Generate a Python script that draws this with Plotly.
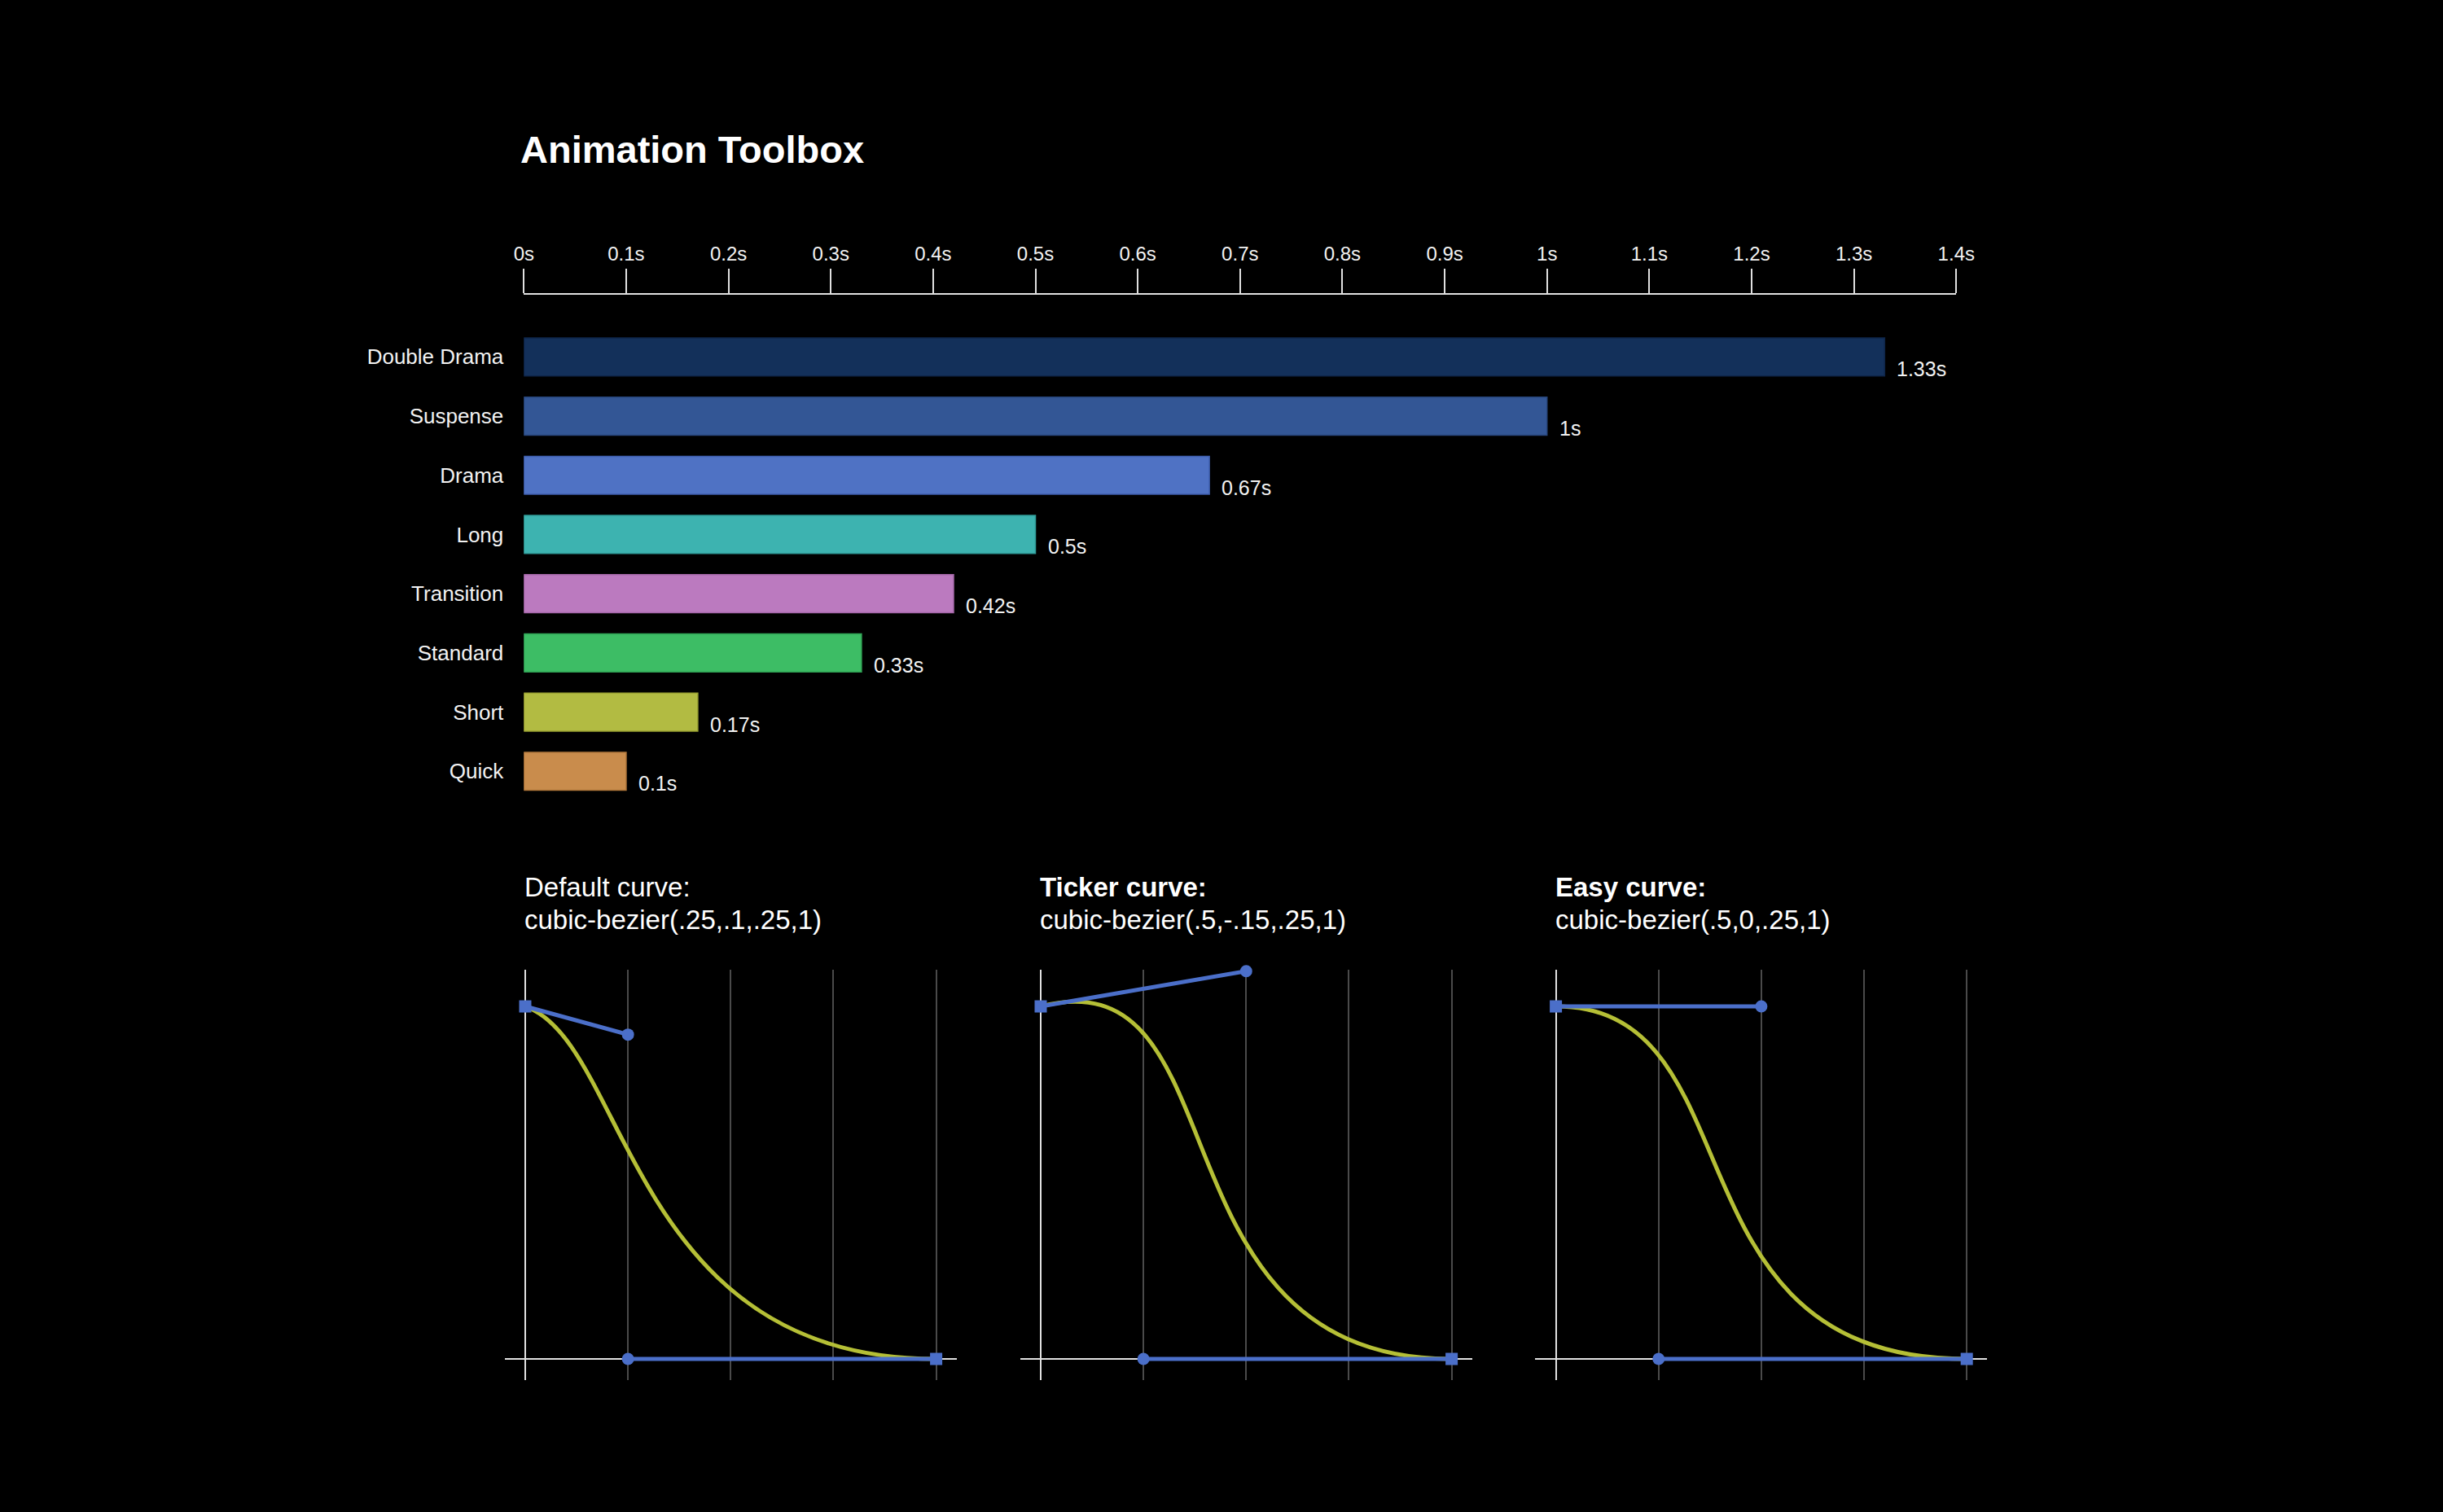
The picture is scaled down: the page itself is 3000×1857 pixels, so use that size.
import plotly.graph_objects as go

W, H = 3000, 1857

# ---------------- data ----------------
categories = ["Double Drama", "Suspense", "Drama", "Long", "Transition", "Standard", "Short", "Quick"]
durations = [1.33, 1.0, 0.67, 0.5, 0.42, 0.33, 0.17, 0.1]
bar_colors = ["#13305a", "#335695", "#4f72c4", "#3db3b0", "#bb7abf", "#3dbd65", "#b2bb42", "#c98c4c"]
bar_edge = ["#0e2548", "#28467c", "#3f5fae", "#2f9a97", "#a466a8", "#30a355", "#9aa232", "#b0773b"]
tick_values = [0, 0.1, 0.2, 0.3, 0.4, 0.5, 0.6, 0.7, 0.8, 0.9, 1.0, 1.1, 1.2, 1.3, 1.4]
tick_labels = ["0s", "0.1s", "0.2s", "0.3s", "0.4s", "0.5s", "0.6s", "0.7s", "0.8s", "0.9s",
               "1s", "1.1s", "1.2s", "1.3s", "1.4s"]

curve_titles = ["Default curve:", "Ticker curve:", "Easy curve:"]
curve_title_bold = [False, True, True]
curve_labels = ["cubic-bezier(.25,.1,.25,1)", "cubic-bezier(.5,-.15,.25,1)", "cubic-bezier(.5,0,.25,1)"]
# cubic-bezier control points (x1, y1, x2, y2)
bez_x1 = [0.25, 0.5, 0.5]
bez_y1 = [0.1, -0.15, 0.0]
bez_x2 = [0.25, 0.25, 0.25]
bez_y2 = [1.0, 1.0, 1.0]
# first handle end as drawn in the picture (progress value)
handle1_y_drawn = [0.08, -0.10, 0.0]

# ---------------- style ----------------
FONT = "Liberation Sans, Arial, sans-serif"
WHITE = "#f2f2f2"
AXIS = "#e0e0e0"
GRID = "#4a4a4a"
BLUE = "#4b6fc9"
YELLOW = "#b5bf36"

fig = go.Figure()

fig.add_trace(go.Bar(
    x=durations, y=categories, orientation="h",
    marker=dict(color=bar_colors, line=dict(color=bar_edge, width=1.5)),
    width=0.642, xaxis="x", yaxis="y", hoverinfo="skip",
))

for i, (v, c) in enumerate(zip(durations, categories)):
    fig.add_annotation(x=v, y=c, xref="x", yref="y", text=f"{v:g}s", showarrow=False,
                       xanchor="left", yanchor="middle", xshift=13, yshift=-15,
                       font=dict(family=FONT, size=25, color=WHITE))

layout = dict(
    width=W, height=H,
    margin=dict(l=0, r=0, t=0, b=0),
    paper_bgcolor="black", plot_bgcolor="black",
    showlegend=False,
    font=dict(family=FONT, color=WHITE),
    xaxis=dict(domain=[643.3 / W, 2402.3 / W], range=[0, 1.4], side="top",
               tickvals=tick_values, ticktext=tick_labels, ticks="outside", ticklen=30,
               tickwidth=2, tickcolor=AXIS, showline=True, linecolor=AXIS, linewidth=2,
               showgrid=False, zeroline=False, tickfont=dict(size=24, color=WHITE),
               fixedrange=True, automargin=False),
    yaxis=dict(domain=[1 - 983.6 / H, 1 - 362 / H], type="category",
               categoryorder="array", categoryarray=categories,
               range=[7.5, -1.05], showgrid=False, zeroline=False, showline=False,
               ticks="", ticklabelstandoff=24, tickfont=dict(size=26, color=WHITE),
               fixedrange=True, automargin=False),
    title=dict(text="<b>Animation Toolbox</b>", x=639 / W, y=1 - 184 / H,
               xanchor="left", yanchor="middle", xref="paper", yref="paper",
               font=dict(family=FONT, size=47, color="white")),
)

panel_x0 = [645.0, 1278.0, 1910.6]
unit = 504.6
shapes = []
for k in range(3):
    ax = k + 2
    xa, ya = f"x{ax}", f"y{ax}"
    x0 = panel_x0[k]
    layout[f"xaxis{ax}"] = dict(
        domain=[(x0 - 0.05 * unit) / W, (x0 + 1.05 * unit) / W], range=[-0.05, 1.05],
        tick0=0, dtick=0.25, showticklabels=False, ticks="",
        showgrid=True, gridcolor=GRID, gridwidth=2, automargin=False,
        zeroline=True, zerolinecolor=AXIS, zerolinewidth=2, anchor=ya, fixedrange=True)
    layout[f"yaxis{ax}"] = dict(
        domain=[1 - 1695 / H, 1 - 1191 / H], range=[-0.06, 1.104],
        showgrid=False, showticklabels=False, ticks="", automargin=False,
        zeroline=True, zerolinecolor=AXIS, zerolinewidth=2, anchor=xa, fixedrange=True)

    # bezier curve (plotted value = 1 - progress)
    shapes.append(dict(
        type="path", xref=xa, yref=ya, layer="between",
        path=f"M 0,1 C {bez_x1[k]},{1 - bez_y1[k]} {bez_x2[k]},{1 - bez_y2[k]} 1,0",
        line=dict(color=YELLOW, width=5)))

    fig.add_trace(go.Scatter(
        x=[0, bez_x1[k]], y=[1, 1 - handle1_y_drawn[k]], mode="lines+markers",
        line=dict(color=BLUE, width=5), cliponaxis=False,
        marker=dict(symbol=["square", "circle"], size=15, color=BLUE),
        xaxis=xa, yaxis=ya, hoverinfo="skip"))
    fig.add_trace(go.Scatter(
        x=[bez_x2[k], 1], y=[1 - bez_y2[k], 0], mode="lines+markers",
        line=dict(color=BLUE, width=5), cliponaxis=False,
        marker=dict(symbol=["circle", "square"], size=15, color=BLUE),
        xaxis=xa, yaxis=ya, hoverinfo="skip"))

    t1 = f"<b>{curve_titles[k]}</b>" if curve_title_bold[k] else curve_titles[k]
    fig.add_annotation(x=0, xref=xa, y=1 - 1089 / H, yref="paper", text=t1,
                       showarrow=False, xanchor="left", yanchor="middle", xshift=-3,
                       font=dict(family=FONT, size=33, color="white"))
    fig.add_annotation(x=0, xref=xa, y=1 - 1129 / H, yref="paper", text=curve_labels[k],
                       showarrow=False, xanchor="left", yanchor="middle", xshift=-3,
                       font=dict(family=FONT, size=33, color="white"))

layout["shapes"] = shapes
fig.update_layout(**layout)

fig.write_html(
    "out.html",
    config={"displayModeBar": False},
    post_script=(
        "var s=document.createElement('style');"
        "s.textContent='html,body{margin:0;padding:0;background:#000;overflow:hidden;}';"
        "document.head.appendChild(s);"
    ),
)
